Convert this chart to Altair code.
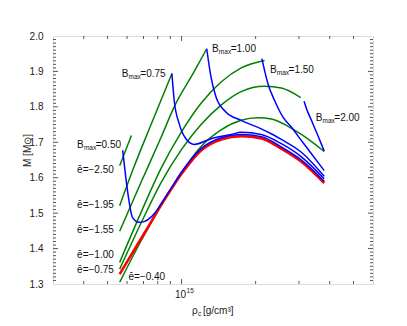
import altair as alt
import pandas as pd

# density in units of 1e15 g/cm^3, mass in solar masses
red_rho = [0.56, 0.64, 0.75, 0.82, 0.90, 1.0, 1.2, 1.45, 1.75, 2.11, 2.54, 3.07, 3.8]
red_m = [1.328, 1.395, 1.474, 1.52, 1.564, 1.611, 1.677, 1.708, 1.717, 1.711, 1.682, 1.645, 1.585]

g1_rho = [0.56, 0.625]
g1_m = [1.634, 1.719]
g2_rho = [0.56, 0.64, 0.75, 0.913]
g2_m = [1.521, 1.63, 1.749, 1.894]
g3_rho = [0.56, 0.682, 0.823, 0.933, 1.126, 1.265]
g3_m = [1.449, 1.585, 1.712, 1.800, 1.900, 1.964]
g4_rho = [0.56, 0.682, 0.823, 1.0, 1.2, 1.447, 1.746, 2.174]
g4_m = [1.361, 1.50, 1.625, 1.73, 1.81, 1.87, 1.91, 1.931]
g5_rho = [0.56, 0.682, 0.823, 1.0, 1.2, 1.447, 1.746, 2.174, 2.543, 3.049]
g5_m = [1.342, 1.47, 1.585, 1.68, 1.75, 1.805, 1.843, 1.858, 1.853, 1.826]
g6_rho = [0.56, 0.682, 0.823, 1.0, 1.2, 1.447, 1.746, 2.043, 2.315, 2.742, 3.069, 3.8]
g6_m = [1.305, 1.42, 1.52, 1.615, 1.688, 1.735, 1.762, 1.769, 1.766, 1.743, 1.722, 1.674]

b050_rho = [0.576, 0.593, 0.611, 0.631, 0.671, 0.704, 0.749, 0.773, 0.823, 0.904, 1.0, 1.2, 1.45, 1.75, 2.11, 2.54, 3.07, 3.8]
b050_m = [1.677, 1.601, 1.535, 1.488, 1.474, 1.476, 1.488, 1.498, 1.525, 1.569, 1.616, 1.682, 1.713, 1.722, 1.716, 1.687, 1.650, 1.590]
b075_rho = [0.913, 0.933, 0.978, 1.041, 1.126, 1.317, 1.589, 1.746, 2.107, 2.543, 3.069, 3.8]
b075_m = [1.894, 1.818, 1.752, 1.710, 1.694, 1.710, 1.722, 1.728, 1.722, 1.696, 1.659, 1.597]
b100_rho = [1.265, 1.317, 1.38, 1.517, 1.746, 2.107, 2.315, 2.543, 3.069, 3.8]
b100_m = [1.964, 1.884, 1.828, 1.785, 1.762, 1.738, 1.724, 1.708, 1.672, 1.604]
b150_rho = [2.12, 2.174, 2.244, 2.388, 2.584, 2.793, 3.069, 3.533, 3.8]
b150_m = [1.936, 1.903, 1.865, 1.818, 1.771, 1.743, 1.705, 1.649, 1.620]
b200_rho = [3.147, 3.22, 3.372, 3.591, 3.8]
b200_m = [1.816, 1.795, 1.762, 1.717, 1.675]

curves = [
    ("g1", "green", g1_rho, g1_m), ("g2", "green", g2_rho, g2_m),
    ("g3", "green", g3_rho, g3_m), ("g4", "green", g4_rho, g4_m),
    ("g5", "green", g5_rho, g5_m), ("g6", "green", g6_rho, g6_m),
    ("red", "red", red_rho, red_m),
    ("b050", "blue", b050_rho, b050_m), ("b075", "blue", b075_rho, b075_m),
    ("b100", "blue", b100_rho, b100_m), ("b150", "blue", b150_rho, b150_m),
    ("b200", "blue", b200_rho, b200_m),
]

rows = []
for name, kind, rr, mm in curves:
    for i, (r, m) in enumerate(zip(rr, mm)):
        rows.append({"curve": name, "kind": kind, "rho": r, "m": m, "i": i})
df = pd.DataFrame(rows)

# labels
bmax_text = ["=0.50", "=0.75", "=1.00", "=1.50", "=2.00"]
bmax_rho = [0.376, 0.571, 1.33, 2.287, 3.51]
bmax_m = [1.691, 1.892, 1.962, 1.903, 1.769]
ebar_text = ["ē=−2.50", "ē=−1.95", "ē=−1.55", "ē=−1.00", "ē=−0.75", "ē=−0.40"]
ebar_rho = [0.376, 0.376, 0.376, 0.376, 0.376, 0.608]
ebar_m = [1.622, 1.524, 1.453, 1.383, 1.340, 1.321]
xtick_label_at = [1.0]

bdf = pd.DataFrame({"rho": bmax_rho, "m": bmax_m, "t": bmax_text})
edf = pd.DataFrame({"rho": ebar_rho, "m": ebar_m, "t": ebar_text})
ldf = pd.DataFrame({"v": xtick_label_at})

W, H = 320, 248
FONT = "Liberation Sans"
xscale = alt.Scale(type="log", domain=[0.3, 6], nice=False)
yscale = alt.Scale(domain=[1.3, 2.0], nice=False)

xaxis = alt.Axis(values=[1], labels=False, tickSize=0, domain=False,
                 grid=False, title=None)
yaxis = alt.Axis(values=[1.3, 1.4, 1.5, 1.6, 1.7, 1.8, 1.9, 2.0], format=".1f",
                 tickSize=0, domain=False, grid=False, labelPadding=10,
                 labelFontSize=10, labelFont=FONT, labelColor="#222",
                 title="M [M⊙]", titleFont=FONT, titleFontSize=10,
                 titleFontWeight="normal", titleColor="#222",
                 titleX=-21, titleY=114)

X = alt.X("rho:Q", scale=xscale, axis=xaxis)
Y = alt.Y("m:Q", scale=yscale, axis=yaxis)
XV = alt.X("v:Q", scale=xscale, axis=xaxis)
YV = alt.Y("v:Q", scale=yscale, axis=yaxis)

def lines(kind, color, width):
    return alt.Chart(df[df.kind == kind]).mark_line(
        color=color, strokeWidth=width, clip=True, interpolate="monotone"
    ).encode(x=X, y=Y, detail="curve:N", order="i:Q")

green = lines("green", "#008000", 1.5)
red = lines("red", "#ff0000", 2.6)
blue = lines("blue", "#0000ff", 1.5)

# ticks (inward, on all four sides)
xmaj = pd.DataFrame({"v": [1.0]})
xmin = pd.DataFrame({"v": [0.4, 0.5, 0.6, 0.7, 0.8, 0.9, 2, 3, 4, 5]})
ymaj = pd.DataFrame({"v": [1.4, 1.5, 1.6, 1.7, 1.8, 1.9]})
ymin = pd.DataFrame({"v": [round(1.3 + 0.01 * k, 2) for k in range(1, 70) if k % 10 != 0]})
tc = "#555"

def xt(d, L):
    b = alt.Chart(d).mark_rule(color=tc, strokeWidth=1).encode(
        x=XV, y=alt.value(H), y2=alt.value(H - L))
    t = alt.Chart(d).mark_rule(color=tc, strokeWidth=1).encode(
        x=XV, y=alt.value(0), y2=alt.value(L))
    return [b, t]

def yt(d, L):
    l = alt.Chart(d).mark_rule(color=tc, strokeWidth=1).encode(
        y=YV, x=alt.value(0), x2=alt.value(L))
    r = alt.Chart(d).mark_rule(color=tc, strokeWidth=1).encode(
        y=YV, x=alt.value(W), x2=alt.value(W - L))
    return [l, r]

ticks = xt(xmaj, 5) + xt(xmin, 3) + yt(ymaj, 5) + yt(ymin, 3)

# x tick label 10^15
l10 = alt.Chart(ldf).mark_text(align="right", baseline="alphabetic", font=FONT, fontSize=10,
                               color="#222", dx=4.5).encode(x=XV, y=alt.value(H + 14),
                                                            text=alt.value("10"))
l15 = alt.Chart(ldf).mark_text(align="left", baseline="alphabetic", font=FONT, fontSize=6.5,
                               color="#222", dx=5).encode(x=XV, y=alt.value(H + 9),
                                                          text=alt.value("15"))

# B_max labels: "B" + subscript "max" + value
bB = alt.Chart(bdf).mark_text(align="left", baseline="middle", font=FONT, fontSize=10,
                              color="#111").encode(x=X, y=Y, text=alt.value("B"))
bS = alt.Chart(bdf).mark_text(align="left", baseline="middle", font=FONT, fontSize=6.5,
                              color="#111", dx=6.8, dy=3).encode(x=X, y=Y, text=alt.value("max"))
bV = alt.Chart(bdf).mark_text(align="left", baseline="middle", font=FONT, fontSize=10,
                              color="#111", dx=18.6).encode(x=X, y=Y, text="t:N")
eL = alt.Chart(edf).mark_text(align="left", baseline="middle", font=FONT, fontSize=10,
                              color="#111").encode(x=X, y=Y, text="t:N")

# x title: rho_c [g/cm^3]
tdf = pd.DataFrame({"a": [0]})
t1 = alt.Chart(tdf).mark_text(align="left", baseline="alphabetic", font=FONT, fontSize=10,
                              color="#222").encode(x=alt.value(139), y=alt.value(H + 30),
                                                   text=alt.value("ρ"))
t2 = alt.Chart(tdf).mark_text(align="left", baseline="alphabetic", font=FONT, fontSize=6.5,
                              color="#222").encode(x=alt.value(145), y=alt.value(H + 32),
                                                   text=alt.value("c"))
t3 = alt.Chart(tdf).mark_text(align="left", baseline="alphabetic", font=FONT, fontSize=10,
                              color="#222").encode(x=alt.value(150), y=alt.value(H + 30),
                                                   text=alt.value("[g/cm³]"))

chart = alt.layer(green, red, blue, *ticks, l10, l15, bB, bS, bV, eL, t1, t2, t3).properties(
    width=W, height=H,
    autosize=alt.AutoSizeParams(type="none"),
    padding={"left": 45, "top": 28, "right": 26, "bottom": 34},
).configure_view(stroke="#555", strokeWidth=1).configure(background="white")

chart.save("out.html", embed_options={"renderer": "svg", "actions": False})
